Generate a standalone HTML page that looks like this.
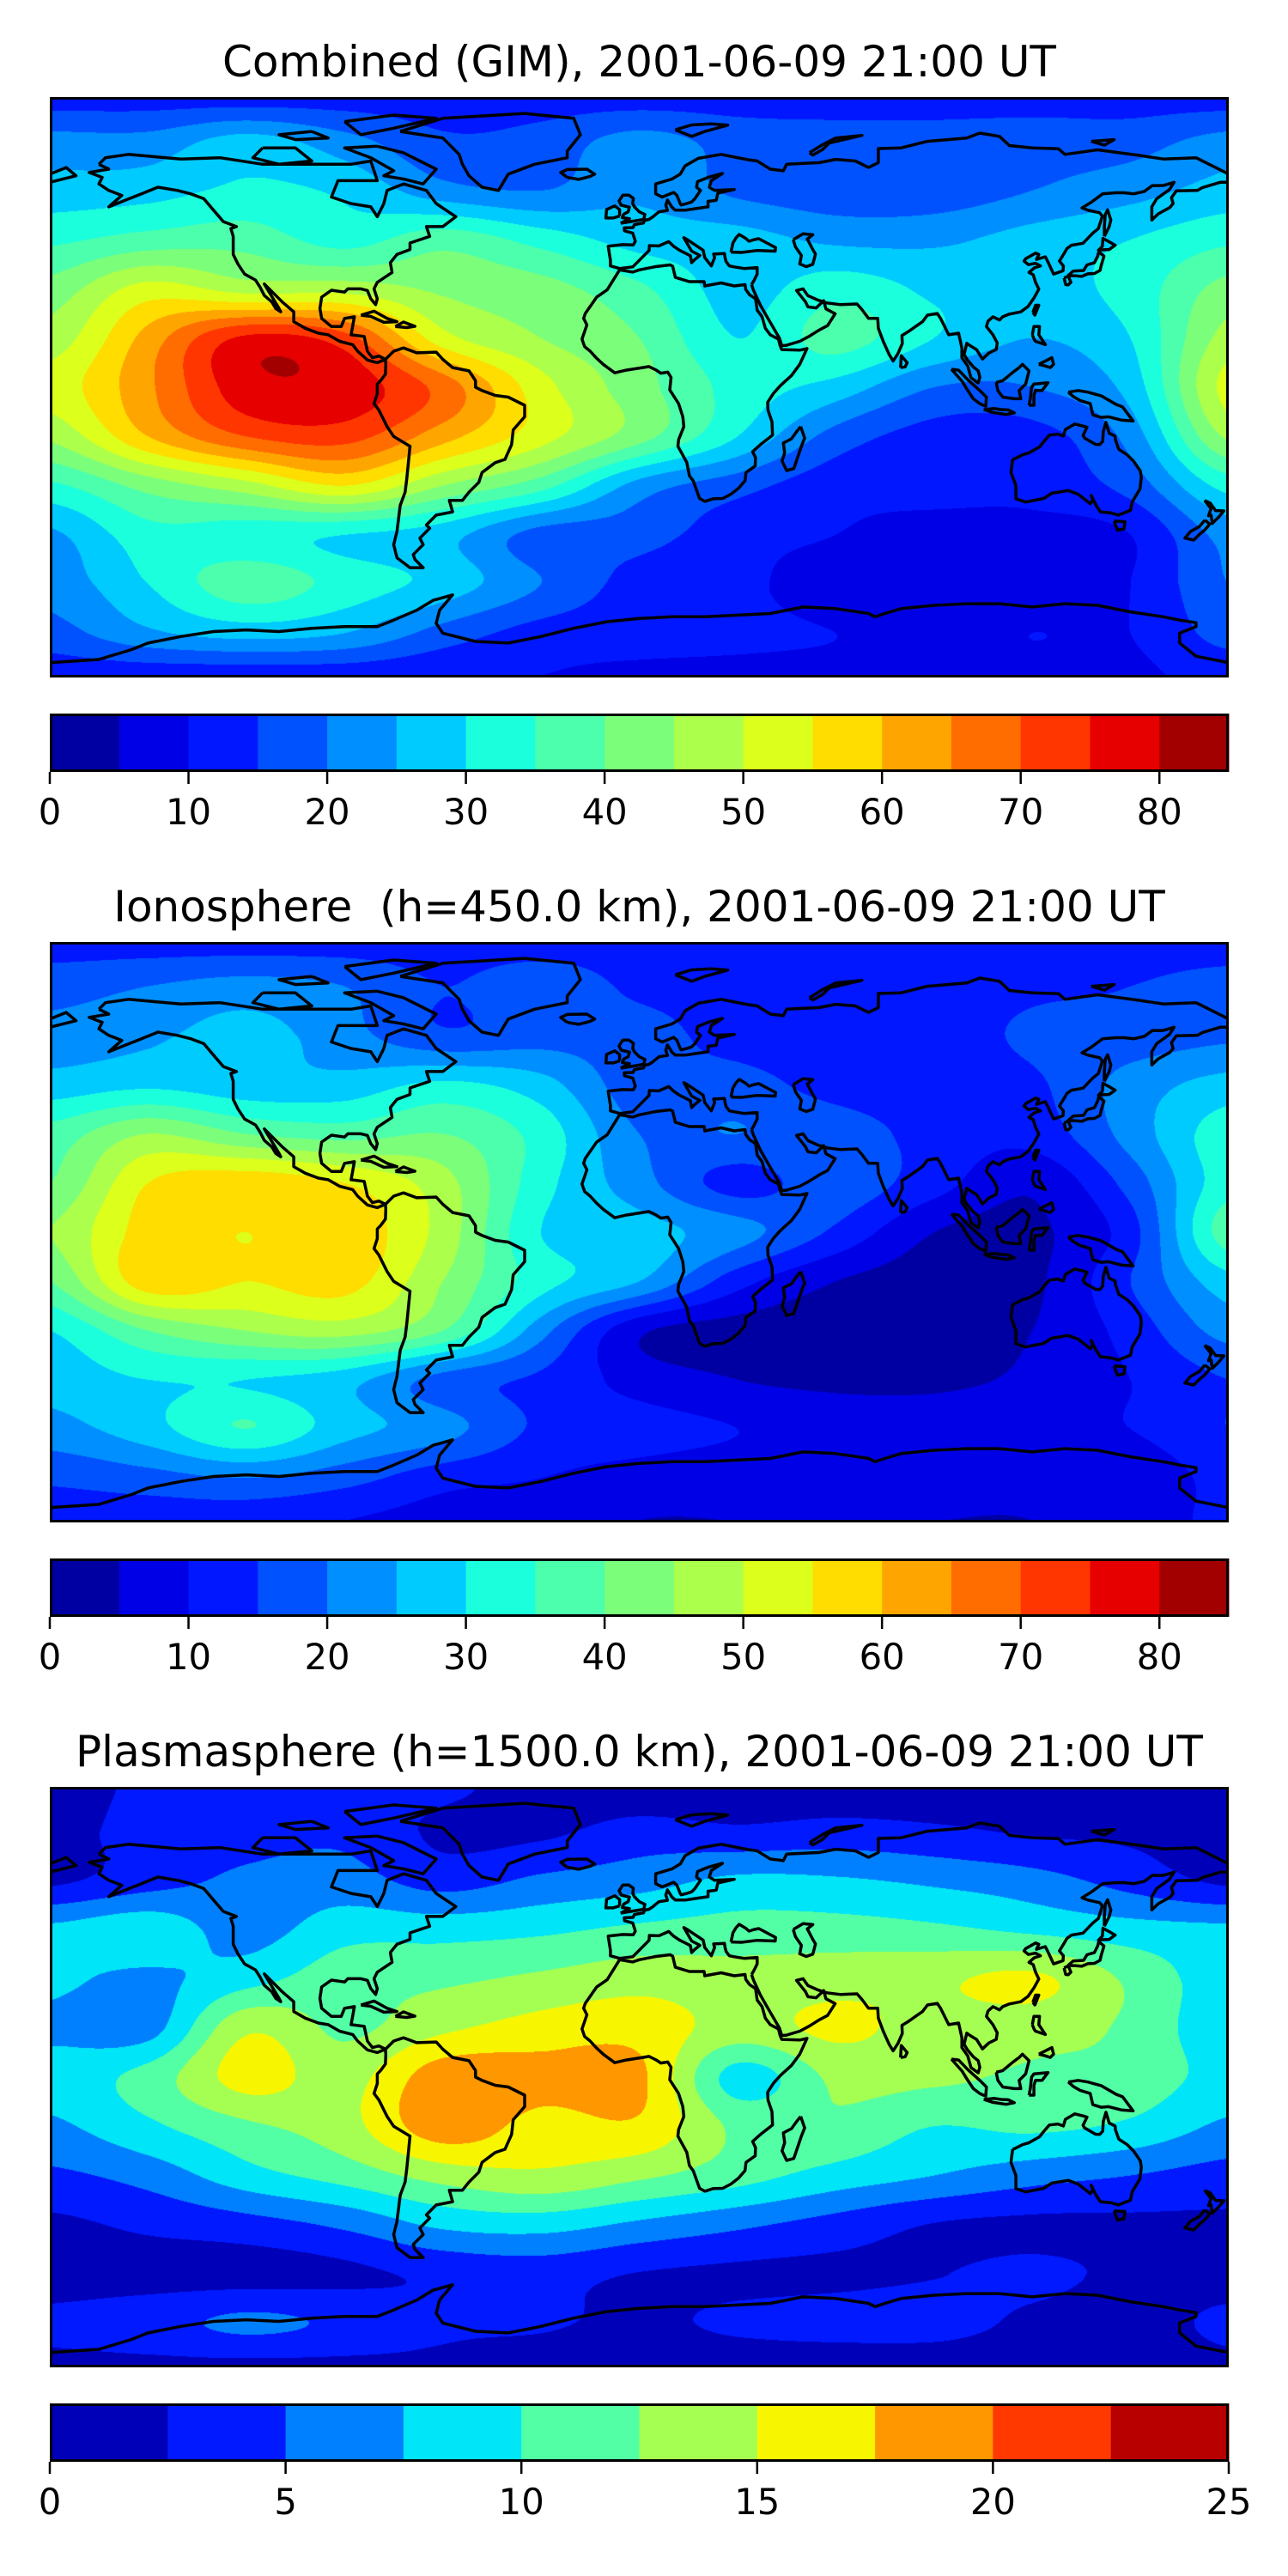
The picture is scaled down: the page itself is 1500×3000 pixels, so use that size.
<!DOCTYPE html>
<html><head><meta charset="utf-8"><style>
html,body{margin:0;padding:0;background:#fff;}
#fig{position:relative;width:1500px;height:3000px;overflow:hidden;font-family:"DejaVu Sans","Liberation Sans",sans-serif;}
canvas{position:absolute;}
svg{position:absolute;left:0;top:0;}
text{white-space:pre;}
</style></head><body>
<div id="fig">
<canvas id="c0" width="1373" height="676" style="left:58px;top:113px"></canvas>
<canvas id="c1" width="1373" height="676" style="left:58px;top:1097px"></canvas>
<canvas id="c2" width="1373" height="676" style="left:58px;top:2081px"></canvas>
<svg id="ov" width="1500" height="3000"></svg>
</div>
<script>
const lons=[-180,-150,-120,-90,-60,-30,0,30,60,90,120,150,180];
const lats=[88,75,60,45,30,15,0,-15,-30,-45,-60,-75,-88];
const gimValues=[
[13,13,13,13,13,13,13,13,13,13,13,13,13],
[22,22,27,22,16,17,22,18,17,17,18,18,22],
[27,28,31,29,22,20,24,19,17,17,20,23,27],
[34,37,38,33,38,33,28,27,24,24,27,30,34],
[42,52,48,48,44,42,36,28,33,29,28,32,42],
[47,62,76,72,52,45,40,30,37,30,25,30,47],
[52,64,78,78,68,52,42,33,28,20,20,27,52],
[46,60,70,72,62,52,42,30,18,13,13,22,46],
[34,42,48,55,45,37,23,17,12,12,12,17,32],
[24,33,32,30,27,18,17,12,10,8,8,10,22],
[22,30,38,33,28,20,13,11,8,8,8,10,20],
[18,24,27,25,18,13,12,11,10,9,10,10,17],
[12,12,12,12,11,10,9,9,9,9,9,9,12]];
const ionoValues=[
[13,13,13,13,13,13,13,13,13,13,13,13,13],
[18,20,22,20,15,18,14,13,12,12,14,15,17],
[22,24,27,22,16,18,17,13,12,12,16,17,19],
[27,29,27,27,31,27,17,17,13,12,14,22,27],
[37,45,40,38,40,33,20,20,18,13,12,22,33],
[40,55,58,55,47,32,22,13,18,12,6,17,33],
[45,57,55,58,48,30,27,22,14,5,4,13,38],
[40,58,55,57,45,32,25,12,5,3,4,15,28],
[30,40,45,47,40,22,6,3,3,4,5,12,22],
[27,30,30,27,18,14,8,5,4,4,6,10,15],
[23,28,35,27,22,14,12,10,8,8,9,10,15],
[16,18,20,17,12,10,8,7,7,6,6,6,12],
[12,12,12,10,8,7,5,5,5,5,5,6,12]];
const plasmaValues=[
[1.5,3,4,4,3,1.5,1,1,1,1,1,1,1.5],
[1.5,3.5,4,4.5,2,2,3.5,3,3.5,3,2.2,2,1.5],
[2,4,5.5,6,4,5.5,6.5,8,7.8,7,6,4,2],
[8,9,6.5,9,9,9.5,10.5,11,11,10.5,9.5,8.5,8],
[8,7,9,11.5,12,13,14,13.5,14,14.5,15.5,12,8.5],
[7,6.5,14.5,12,14.5,16,16.5,14,15.5,14,13.5,12,8],
[8.5,11,16,14,19,18.5,18,9,13,13,12,11.5,9],
[7,9.5,12,14,19,16.5,17,12,12,10,10.5,9.5,7],
[4.5,6,9,11,13.5,14.5,13,11,9,7.5,6,5,4],
[2,3,4,5.5,8,8.5,7,5.5,4,2.4,2,2,2],
[1.5,1.5,1.5,2,3,3.5,2.4,2,2,2.4,3,2,1.5],
[3,4,5.5,4.5,3,2.8,2,3,3.5,3.5,2,1.5,3],
[2,2,2,2,2,1.5,1,1,1,1,1,1,2]];
const gimLevels=[0,5,10,15,20,25,30,35,40,45,50,55,60,65,70,75,80,85];
const gimTicks=[0,10,20,30,40,50,60,70,80];
const plasmaLevels=[0,2.5,5,7.5,10,12.5,15,17.5,20,22.5,25];
const plasmaTicks=[0,5,10,15,20,25];
const titles=["Combined (GIM), 2001-06-09 21:00 UT","Ionosphere  (h=450.0 km), 2001-06-09 21:00 UT","Plasmasphere (h=1500.0 km), 2001-06-09 21:00 UT"];

const coasts=[
[[-165,68],[-163,70],[-156,71],[-140,69.6],[-128,70],[-115,68],[-95,68],[-88,68],[-82,69],[-80,63],[-92,63],[-94,58],[-88,56],[-82,55],[-80,52],[-78,56],[-77,60],[-72,62],[-65,60],[-62,56],[-56,52],[-60,49],[-65,49],[-64,46],[-70,44],[-70,42],[-74,40.5],[-76,38],[-75.5,35],[-80,32],[-81,30],[-80,27],[-80.5,25.2],[-82,27],[-83,29.5],[-85,30],[-89,30],[-90,29],[-94,29.6],[-97,27.5],[-97.5,24],[-97,21],[-94,18.5],[-91,18.5],[-90,21],[-87,21.5],[-88,16],[-84,15.5],[-83,11],[-81.5,9],[-79.5,9.5],[-77.5,8.5],[-80,7.5],[-83,8.3],[-86,11],[-87.5,13],[-91.5,14],[-95,16],[-98,16.5],[-102,18],[-105.5,20],[-105.5,23],[-109,26],[-112.5,29.5],[-114.5,31.5],[-113,29],[-110,24],[-109.5,23],[-111,24],[-112.2,26],[-114.5,28],[-115.8,30.5],[-117.2,32.7],[-120.5,34.5],[-122.5,37.5],[-124,40.5],[-124,46],[-124.7,48.4],[-123,49],[-127,50.5],[-130,54],[-133,57.5],[-137,59],[-141,60],[-147,61],[-152,59],[-157,57],[-162,55],[-158,58.5],[-162,60],[-165,62],[-164,64],[-168,65.5],[-162,66.5],[-165,68]],
[[-73,78],[-60,82],[-35,83.5],[-20,82],[-18,77],[-22,72],[-22,70],[-32,68],[-40,65],[-43,60],[-48,61],[-52,64.5],[-54,68],[-55,71],[-60,76],[-73,78]],
[[-80,73.5],[-72,71.5],[-67,69],[-62,66.5],[-66,62],[-72,63.5],[-78,64.5],[-75,66],[-82,70],[-90,73],[-80,73.5]],
[[-115,73],[-105,73],[-100,69],[-110,68],[-118,70],[-115,73]],
[[-90,81],[-75,83],[-62,82],[-75,79],[-85,77],[-90,81]],
[[-100,78],[-95,76],[-105,75.5],[-110,77],[-100,78]],
[[-85,22],[-81,23.2],[-77,21],[-74,20],[-78,19.8],[-82,21.6],[-85,22]],
[[-74.5,18.5],[-72,19.9],[-68.5,18.6],[-71,18.2],[-74.5,18.5]],
[[-77.5,8.5],[-75,11],[-72,12],[-68,10.5],[-62,10.7],[-60,8.5],[-57,6],[-52,5],[-50,2],[-50,0],[-48,-1],[-44,-2.5],[-40,-3],[-35,-5.5],[-35,-9],[-38.5,-13],[-39,-17.5],[-41,-22],[-44,-23],[-48,-26],[-49,-29],[-52,-32],[-54,-34.5],[-58,-34.5],[-57,-38],[-62,-39],[-65,-42],[-64,-43],[-67,-46],[-66,-48],[-69,-51],[-68.5,-52.5],[-66,-55],[-70,-55],[-74,-52],[-75,-48],[-74,-44],[-73.5,-40],[-73,-36],[-71.5,-32],[-71,-28],[-70.5,-23],[-70,-18],[-75,-15],[-77,-12],[-79.5,-7],[-81,-5],[-80,-2],[-80,1],[-79,2],[-77.5,4],[-77.4,7],[-77.5,8.5]],
[[34.3,31.3],[35,32.5],[36,34.5],[36,36.5],[32,36.2],[29,36.7],[27.5,37],[26.5,38.3],[26.2,39.5],[26,40.8],[22.7,40.6],[23,39.5],[22,37],[20,39.5],[19.5,41.8],[15,44.8],[13.6,45.6],[16,41.5],[18.5,40.2],[17,39],[16,38],[15.6,40.1],[12.3,41.8],[10.5,43],[9,44.4],[6,43.1],[3.1,43.2],[3,41.7],[0,38.7],[-2,36.7],[-6,36.2],[-8.8,37],[-8.8,38.7],[-9.5,43],[-5,43.5],[-1.8,43.4],[-1.2,44.5],[-2,47],[-4.5,47.7],[-4.6,48.6],[-1.9,48.7],[-1.5,49.6],[1.3,50.1],[1.6,50.9],[3,51.2],[4.2,52],[6,53.5],[8.6,53.9],[8.1,55.5],[8.6,57.1],[10,54.9],[11,54],[14,54],[18,54.6],[21,55],[21,56.7],[23.5,57],[24,59.2],[29,60.3],[23,60],[21.4,61],[22,63],[25.4,65.2],[21,64],[17.8,62.7],[17.5,61],[18.7,60],[17,57.5],[16,56.5],[14.5,56],[12.8,55.6],[12.5,56],[11.5,58.5],[10.5,59.4],[7,58],[5,59],[5,62],[10,63.5],[12.5,65],[14,67.5],[18,69.8],[25,71],[33,69.4],[36,69],[40,66.5],[44,66],[45,68],[55,68.5],[60,69.5],[66,69],[70,67],[73,68.5],[73,72.8],[80,73],[88,75],[100,76],[104,77.5],[110,76.5],[113,73.7],[120,73],[128,72.7],[130,71],[140,72.4],[152,70.8],[160,69.6],[170,70],[175,67.5],[180,65]],
[[-180,65],[-175,67],[-172,64.5],[-180,62.5]],
[[180,62.5],[177.4,62.5],[172,60.9],[170.4,60],[164,59.9],[162.5,57.8],[163,56],[162,54.8],[158.5,52.9],[156.5,51],[156.5,55],[158,57.5],[161.9,60.3],[163.3,62.5],[160,61.5],[156.7,61.5],[154.2,59.7],[151,59],[148,59.3],[145.5,59.3],[141.5,59],[138,56.4],[135.2,54.7],[137,54],[140.6,53.2],[141.4,52.2],[140.2,48.4],[138.5,47],[135.5,43.9],[132,43.3],[130.6,42.3],[129.7,40.8],[128.3,38.5],[129.5,37],[129.4,35.5],[126.5,34.5],[125,37.8],[124,39.8],[121.3,39],[122,40.5],[121,40.9],[118,39.2],[117.5,38.5],[118.8,37.4],[121,37.8],[122.5,37],[120.6,36.4],[119,35],[120.3,34.3],[121,32],[122,29.9],[120.5,27.2],[118.7,24.6],[116.5,23],[113,22.3],[111,21.5],[110,20.5],[108,21.5],[106.5,20.2],[106,18.5],[108,16],[109.3,13.5],[109,11.5],[106.7,10.4],[104.8,8.6],[103,11.5],[101,12.7],[100,13.4],[99.2,10],[100.2,8.3],[102,6.2],[103.5,5],[104,3],[103.5,1.3],[101.3,2.9],[100.3,6.5],[98.5,9],[98.5,12],[97.5,16.5],[94.5,16],[94,17],[92,21],[91,22.5],[88,22],[86.5,20],[82.2,17],[80.2,15.8],[80.3,13.3],[79,10.3],[77.5,8],[76.3,10],[74.5,14],[73,18],[72.8,21],[70,21],[68,23.7],[66.5,25.4],[61.5,25.2],[57.3,25.7],[54.5,26.6],[51.5,27.9],[50,30],[48,29.5],[50.8,26],[51.5,24.5],[54,24.2],[56.3,26.4],[57,23.9],[59.8,22.4],[57.5,18.8],[55,17.5],[52,15.6],[49,14],[45,12.8],[43.5,12.7],[42.8,15],[39,21.5],[37,25],[34.9,29.5],[34.3,31.3]],
[[28,41.2],[31.2,41.1],[36,41.7],[41.5,41.5],[41.6,42.6],[38,44.5],[36.5,45.3],[35,45],[33.5,44.5],[32.5,45.4],[30.5,46.6],[29.5,45.5],[28.6,44],[28,41.2]],
[[47,45],[50,46.8],[53,46.5],[51.3,45.2],[53,42],[53.8,40.6],[53,37.5],[51,36.8],[49,37.6],[49.5,40.2],[47.7,42.8],[47,45]],
[[-6,35.8],[-9.8,29.7],[-13,27.5],[-16.5,22.5],[-17,21],[-16,19],[-17.5,14.7],[-16.7,12.4],[-15,11],[-13.2,9],[-11,7],[-7.5,4.4],[-4,5.2],[1,6],[3,6.3],[5.2,5.2],[6.6,4.3],[8.7,4.6],[9.7,3],[9.3,-0.8],[12,-5],[13.3,-9],[13.6,-12],[12,-16],[11.8,-18],[14.5,-22.9],[15.3,-27],[16.5,-28.6],[18.4,-33.9],[20,-34.8],[22.5,-34],[25.5,-33.9],[28,-32.6],[30.3,-30.8],[32.3,-28.5],[32.6,-26],[35.4,-24],[35.5,-21.5],[34.6,-19.6],[37,-17.5],[40.7,-14.6],[40.5,-10.5],[39.3,-7],[39.2,-4.6],[41,-1.8],[43.1,0.5],[46.5,3.6],[49,7],[51.2,11.8],[49,11.3],[43.5,11.5],[43,12.7],[42.5,14.7],[40,16],[38.5,18],[37.5,21.5],[36,23.5],[35.5,27],[33.7,28.2],[32.5,29.8],[32.3,31.3],[29,30.9],[25,31.8],[20,30.9],[19.8,32.2],[15.3,32.2],[11,33.5],[10.2,36.9],[9.4,37.3],[5,36.8],[0,35.8],[-2,35.1],[-6,35.8]],
[[49.3,-12],[50.5,-15.5],[49.5,-18],[47.2,-24.8],[45,-25.4],[43.6,-22.5],[44.4,-20],[44,-17],[46.5,-15.7],[48,-13.6],[49.3,-12]],
[[114,-22],[113.5,-26],[115,-30],[115,-34],[118,-35],[123.5,-33.9],[126,-32.3],[131,-31.5],[134,-32.6],[137.7,-35.5],[138.5,-34.4],[138,-33],[139.5,-36],[140.8,-38],[144,-38.3],[146.3,-39],[150,-37.5],[150.5,-35],[152.9,-31],[153.3,-27.5],[153,-25.5],[150.9,-22.5],[149,-20.6],[146.4,-18.9],[145.4,-16],[145.3,-14.9],[143.5,-14],[142.5,-10.7],[141.7,-13.5],[141.5,-16.5],[140.6,-17.5],[139.3,-17.4],[136,-15.5],[135.5,-14.7],[136.7,-12.2],[135.8,-11.9],[133,-11.2],[130.1,-12.9],[129.5,-14.9],[127.8,-14.3],[125.2,-14.6],[123.5,-16.6],[122.2,-18.2],[119,-20],[117,-20.6],[114.6,-21.8],[114,-22]],
[[145,-40.8],[148.3,-41],[148,-43.2],[146,-43.6],[145,-40.8]],
[[172.6,-34.5],[174.3,-35.3],[176,-37.6],[178.5,-37.7],[177,-39.5],[175,-41.5],[174.6,-39],[173.8,-39.2],[174.6,-37],[172.6,-34.5]],
[[172.7,-40.5],[174.2,-41.7],[172.8,-43.4],[171,-44.9],[169.3,-46.6],[166.6,-46],[168.3,-44],[171,-42.5],[172.7,-40.5]],
[[130.9,34],[132.5,35.4],[135.7,35.6],[136.7,37.3],[139,38],[140,40],[140.3,41.3],[141.9,40],[141,37],[140.7,35.6],[139,34.7],[137,34.6],[135.1,33.8],[133,34],[130.9,34]],
[[129.7,33.3],[131,33.9],[131.8,32],[131,31.2],[130.2,31.3],[129.7,33.3]],
[[140,41.5],[141.4,43],[141.6,45.4],[143.8,44.2],[145.3,43.3],[143.5,42],[141,41.9],[140,41.5]],
[[142,46],[143.5,49],[144,51],[143,54.1],[142.3,52.7],[142,49],[142,46]],
[[95.3,5.5],[97.5,5.2],[100.4,2.2],[104,-1],[106,-3],[105.8,-5.8],[104,-5],[102,-3.5],[100,-0.5],[98.6,1.8],[95.3,5.5]],
[[105.2,-6.8],[108.5,-6.5],[110.5,-6.8],[112.7,-6.9],[114.5,-7.8],[112,-8.3],[108,-7.7],[105.2,-6.8]],
[[109,1.5],[109.5,-1],[111,-3],[114.5,-3.5],[116.5,-3.5],[116,-1],[118,1],[119,5],[117,7],[116,6],[114,4.5],[111,2],[109,1.5]],
[[119,-5.5],[120.5,-5.5],[120.5,-2.5],[121,-1],[123,-1],[124.8,1.4],[120.5,1],[119.8,0],[119.4,-3.5],[119,-5.5]],
[[131,-1.5],[134,-1],[137,-1.5],[141,-2.6],[145.7,-5.3],[147.6,-6],[150.8,-10.3],[147.2,-10],[143.3,-9],[141,-9.2],[138.5,-8.4],[137.7,-5],[134.5,-4],[132.5,-2.8],[131,-1.5]],
[[120,16],[120.5,18.5],[122.2,18.5],[122,16],[124,13],[121,14],[120.6,14.5],[120,16]],
[[122,7],[124,8],[126,9],[126.5,7],[125.5,6],[124,6.5],[122,7]],
[[120.2,22.8],[121,25],[122,25],[120.8,22],[120.2,22.8]],
[[79.8,6],[80,9.6],[81.8,7.5],[81.2,6.2],[79.8,6]],
[[-5.7,50],[1.4,51.2],[1.7,52.7],[0,53.5],[-1.5,55],[-2,56],[-1.8,57.6],[-3.2,58.6],[-5,58.6],[-6.2,56.8],[-5.5,55.5],[-3,54.9],[-3.4,53.5],[-4.7,52.8],[-5.2,51.7],[-3,51.4],[-5.7,50]],
[[-6,52.2],[-6,54.2],[-7.5,55.3],[-10,54.2],[-10.2,51.6],[-8,51.6],[-6,52.2]],
[[-22,64],[-24,65.5],[-22,66.4],[-16,66.5],[-13.6,65],[-15,64.3],[-18.5,63.4],[-22,64]],
[[11,78.5],[16,80],[22,80.3],[27,79.9],[20,78],[16,76.5],[11,78.5]],
[[52,71.5],[56,74],[60,76],[68,76.8],[58,74.5],[56,72.5],[53,70.8],[52,71.5]],
[[138,75],[145,75.5],[142,73.8],[138,75]],
[[-180,-84],[-165,-83],[-155,-80],[-150,-78],[-140,-76],[-130,-74.5],[-120,-74],[-110,-74.5],[-100,-73.5],[-90,-73],[-80,-73],[-75,-71],[-68,-68],[-63,-65],[-57,-63.3],[-58,-64.5],[-61,-68],[-62,-72],[-60,-75],[-50,-77.5],[-40,-78],[-30,-76],[-20,-73.5],[-10,-71.5],[0,-70.5],[10,-70],[20,-70],[30,-69.5],[40,-69],[50,-67],[60,-67.5],[70,-69],[72,-70],[75,-69],[80,-67.5],[90,-66.5],[100,-66],[110,-66],[120,-67],[130,-66],[140,-66.5],[150,-68.5],[160,-70],[165,-71],[170,-71.8],[170,-73],[165,-75],[165,-78],[170,-82],[180,-84]]
];

const MX=58, MW=1373, MH=676, LATMAX=88.5;
const mapTops=[113,1097,2081];
const NS='http://www.w3.org/2000/svg';
const ov=document.getElementById('ov');

const jetR=[[0,0],[0.35,0],[0.66,1],[0.89,1],[1,0.5]];
const jetG=[[0,0],[0.125,0],[0.375,1],[0.64,1],[0.91,0],[1,0]];
const jetB=[[0,0.5],[0.11,1],[0.34,1],[0.65,0],[1,0]];
function seg(s,t){
  for(let i=0;i<s.length-1;i++){
    if(t>=s[i][0]&&t<=s[i+1][0]){const f=(t-s[i][0])/(s[i+1][0]-s[i][0]);return s[i][1]+f*(s[i+1][1]-s[i][1]);}
  }
  return s[s.length-1][1];
}
function jet(t){return [Math.round(255*seg(jetR,t)),Math.round(255*seg(jetG,t)),Math.round(255*seg(jetB,t))];}
function latIndex(lat){
  if(lat>=lats[0])return 0;
  for(let i=0;i<lats.length-1;i++){
    if(lat<=lats[i]&&lat>=lats[i+1])return i+(lats[i]-lat)/(lats[i]-lats[i+1]);
  }
  return lats.length-1;
}
function cr(p0,p1,p2,p3,t){
  return 0.5*((2*p1)+(-p0+p2)*t+(2*p0-5*p1+4*p2-p3)*t*t+(-p0+3*p1-3*p2+p3)*t*t*t);
}
function sample(g,fi,fj){
  const n=g.length,m=g[0].length;
  const i=Math.min(Math.floor(fi),n-2),j=Math.min(Math.floor(fj),m-2);
  const ti=fi-i,tj=fj-j;
  const rows=[];
  for(let a=-1;a<=2;a++){
    const r=g[Math.max(0,Math.min(n-1,i+a))];
    const q=k=>r[Math.max(0,Math.min(m-1,k))];
    rows.push(cr(q(j-1),q(j),q(j+1),q(j+2),tj));
  }
  return cr(rows[0],rows[1],rows[2],rows[3],ti);
}
function drawField(id,grid,levels){
  const cv=document.getElementById(id),ctx=cv.getContext('2d');
  const img=ctx.createImageData(MW,MH),d=img.data;
  const nb=levels.length-1,step=levels[1]-levels[0];
  const cols=[];for(let k=0;k<nb;k++)cols.push(jet((k+0.5)/nb));
  const fjs=new Float32Array(MW);
  for(let x=0;x<MW;x++){const lon=-180+(x+0.5)/MW*360;fjs[x]=(lon-lons[0])/30;}
  for(let y=0;y<MH;y++){
    const lat=LATMAX-(y+0.5)/MH*2*LATMAX;const fi=latIndex(lat);
    for(let x=0;x<MW;x++){
      const v=sample(grid,fi,fjs[x]);
      let k=Math.floor((v-levels[0])/step);k=Math.max(0,Math.min(nb-1,k));
      const c=cols[k],o=(y*MW+x)*4;
      d[o]=c[0];d[o+1]=c[1];d[o+2]=c[2];d[o+3]=255;
    }
  }
  ctx.putImageData(img,0,0);
}
drawField('c0',gimValues,gimLevels);
drawField('c1',ionoValues,gimLevels);
drawField('c2',plasmaValues,plasmaLevels);

function px(lon){return MX+(lon+180)/360*MW;}
function py(top,lat){return top+(LATMAX-lat)/(2*LATMAX)*MH;}

const panelNames=['combined','ionosphere','plasmasphere'];
mapTops.forEach((top,p)=>{
  const name=panelNames[p];
  const t=document.createElementNS(NS,'text');
  
  
  t.setAttribute('x',744.5);t.setAttribute('y',top-24);
  t.setAttribute('text-anchor','middle');t.setAttribute('font-size','50');
  t.setAttribute('font-family','DejaVu Sans, Liberation Sans, sans-serif');
  t.setAttributeNS('http://www.w3.org/XML/1998/namespace','xml:space','preserve');
  t.textContent=titles[p];ov.appendChild(t);

  const cp=document.createElementNS(NS,'clipPath');cp.setAttribute('id','clip'+p);
  const cr_=document.createElementNS(NS,'rect');
  cr_.setAttribute('x',MX);cr_.setAttribute('y',top);cr_.setAttribute('width',MW);cr_.setAttribute('height',MH);
  cp.appendChild(cr_);ov.appendChild(cp);
  const g=document.createElementNS(NS,'g');
  
  
  g.setAttribute('clip-path','url(#clip'+p+')');
  coasts.forEach(line=>{
    const pa=document.createElementNS(NS,'path');
    
    
    pa.setAttribute('d',line.map((q,i)=>(i?'L':'M')+px(q[0]).toFixed(1)+' '+py(top,q[1]).toFixed(1)).join(''));
    pa.setAttribute('fill','none');pa.setAttribute('stroke','#000');pa.setAttribute('stroke-width','3.5');pa.setAttribute('stroke-linejoin','round');
    g.appendChild(pa);
  });
  ov.appendChild(g);
  const fr=document.createElementNS(NS,'rect');
  
  
  fr.setAttribute('x',MX+1.5);fr.setAttribute('y',top+1.5);fr.setAttribute('width',MW-3);fr.setAttribute('height',MH-3);
  fr.setAttribute('fill','none');fr.setAttribute('stroke','#000');fr.setAttribute('stroke-width','3');
  ov.appendChild(fr);

  const levels=p<2?gimLevels:plasmaLevels, ticks=p<2?gimTicks:plasmaTicks;
  const cbTop=top+718, cbH=68, nb=levels.length-1;
  const lo=levels[0],hi=levels[nb];
  const cx=v=>MX+(v-lo)/(hi-lo)*MW;
  const cb=document.createElementNS(NS,'g');
  
  
  for(let k=0;k<nb;k++){
    const r=document.createElementNS(NS,'rect');
    
    
    const c=jet((k+0.5)/nb);
    r.setAttribute('x',cx(levels[k]));r.setAttribute('y',cbTop);
    r.setAttribute('width',cx(levels[k+1])-cx(levels[k])+0.5);r.setAttribute('height',cbH);
    r.setAttribute('fill','rgb('+c.join(',')+')');cb.appendChild(r);
  }
  const bf=document.createElementNS(NS,'rect');
  bf.setAttribute('x',MX+1.5);bf.setAttribute('y',cbTop+1.5);bf.setAttribute('width',MW-3);bf.setAttribute('height',cbH-3);
  bf.setAttribute('fill','none');bf.setAttribute('stroke','#000');bf.setAttribute('stroke-width','3');
  cb.appendChild(bf);
  ticks.forEach(v=>{
    const tk=document.createElementNS(NS,'line');
    
    
    tk.setAttribute('x1',cx(v));tk.setAttribute('x2',cx(v));tk.setAttribute('y1',cbTop+cbH);tk.setAttribute('y2',cbTop+cbH+14);
    tk.setAttribute('stroke','#000');tk.setAttribute('stroke-width','2.5');cb.appendChild(tk);
    const tl=document.createElementNS(NS,'text');
    
    
    tl.setAttribute('x',cx(v));tl.setAttribute('y',cbTop+cbH+61);
    tl.setAttribute('text-anchor','middle');tl.setAttribute('font-size','41.7');
    tl.setAttribute('font-family','DejaVu Sans, Liberation Sans, sans-serif');
    tl.textContent=String(v);cb.appendChild(tl);
  });
  ov.appendChild(cb);
});
</script>
</body></html>
